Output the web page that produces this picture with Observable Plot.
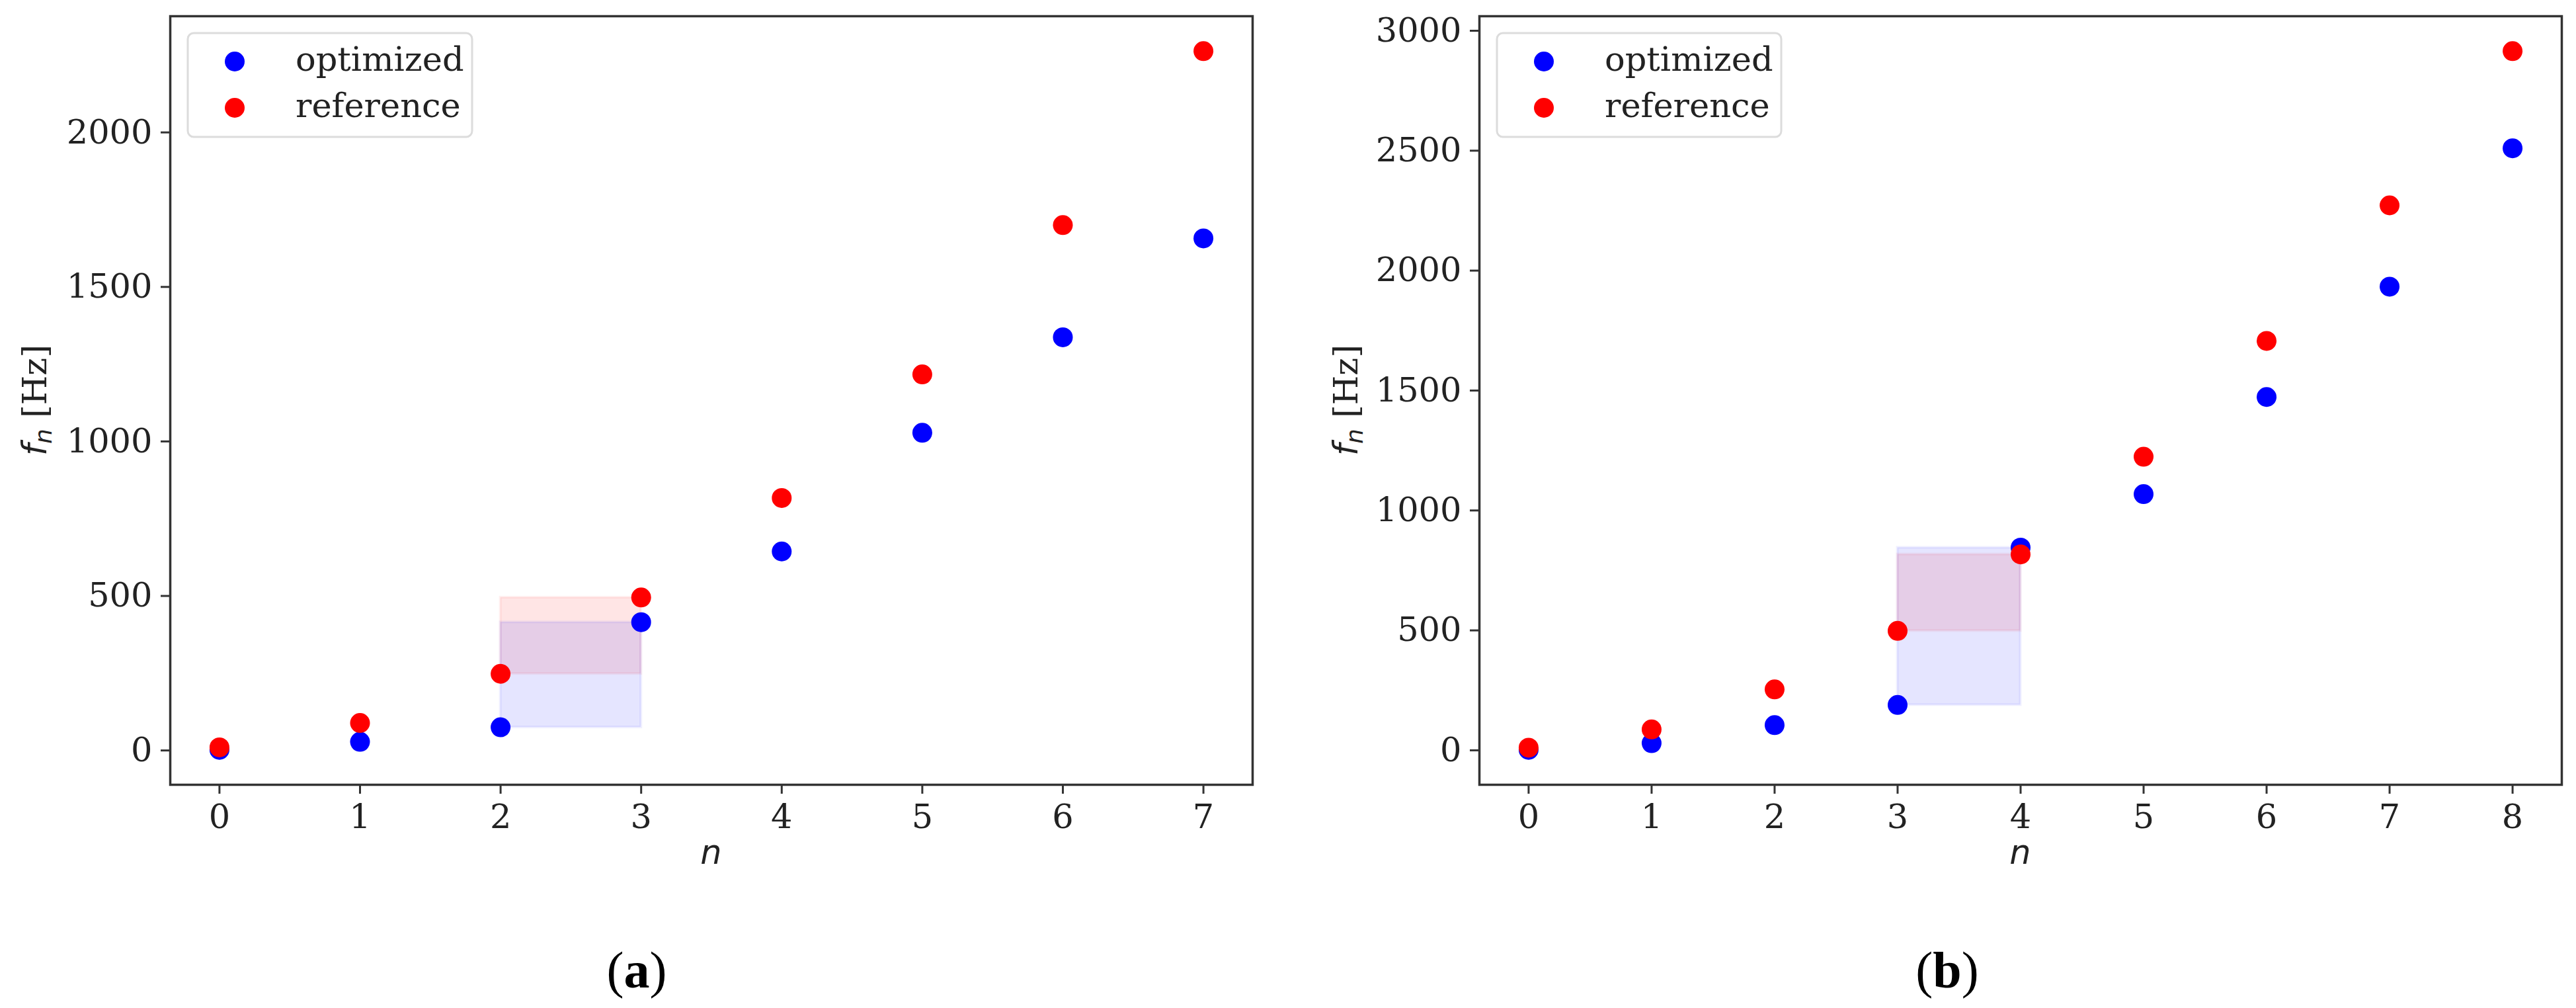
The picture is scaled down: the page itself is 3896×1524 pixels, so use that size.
<!DOCTYPE html>
<html><head><meta charset="utf-8">
<script src="https://cdn.jsdelivr.net/npm/d3@7"></script>
<script src="https://cdn.jsdelivr.net/npm/@observablehq/plot@0.6"></script>
<style>
body{margin:0;background:#fff;}
#fig{position:relative;width:3896px;height:1524px;background:#fff;overflow:hidden}
.panel{position:absolute;top:0}
.cap{position:absolute;font-family:"Liberation Serif",serif;font-size:78px;color:#000;transform:translateX(-50%);white-space:nowrap;line-height:1}
</style></head><body><div id="fig"></div>
<script>
// Panel (a)
const nA = [0, 1, 2, 3, 4, 5, 6, 7];
const optimizedA = [2, 28, 75, 415, 644, 1028, 1337, 1657];
const referenceA = [10, 89, 248, 495, 817, 1217, 1700, 2263];
const bandA = [2, 3];           // shaded interval between these n
const yTicksA = [0, 500, 1000, 1500, 2000];

// Panel (b)
const nB = [0, 1, 2, 3, 4, 5, 6, 7, 8];
const optimizedB = [2, 30, 105, 189, 845, 1068, 1473, 1933, 2510];
const referenceB = [11, 87, 254, 498, 817, 1224, 1707, 2272, 2915];
const bandB = [3, 4];
const yTicksB = [0, 500, 1000, 1500, 2000, 2500, 3000];

const seriesNames = ["optimized", "reference"];
const seriesColors = ["blue", "red"];
const captions = ["a", "b"];

function panel({n, opt, ref, band, yTicks, width, marginLeft, marginRight, ylabelX}) {
  const H = 1330, mt = 24, mb = 144;
  const [ymin, ymax] = d3.extent(opt.concat(ref));
  const py = (ymax - ymin) * 0.05;
  const [xmin, xmax] = d3.extent(n);
  const px = (xmax - xmin) * 0.05;
  const optData = n.map((k, i) => ({n: k, f: opt[i]}));
  const refData = n.map((k, i) => ({n: k, f: ref[i]}));
  const bandOf = (arr) => [{x1: n[band[0]], x2: n[band[1]], y1: arr[band[0]], y2: arr[band[1]]}];
  const plot = Plot.plot({
    width, height: H, marginLeft, marginRight, marginTop: mt, marginBottom: mb,
    style: {fontFamily: "DejaVu Serif", fontSize: "51px", color: "#222", background: "#fff", overflow: "visible"},
    x: {domain: [xmin - px, xmax + px]},
    y: {domain: [ymin - py, ymax + py]},
    marks: [
      Plot.rect(bandOf(ref), {x1: "x1", x2: "x2", y1: "y1", y2: "y2", fill: seriesColors[1], fillOpacity: 0.1, stroke: seriesColors[1], strokeOpacity: 0.06, strokeWidth: 4}),
      Plot.rect(bandOf(opt), {x1: "x1", x2: "x2", y1: "y1", y2: "y2", fill: seriesColors[0], fillOpacity: 0.1, stroke: seriesColors[0], strokeOpacity: 0.06, strokeWidth: 4}),
      Plot.dot(optData, {x: "n", y: "f", r: 15, fill: seriesColors[0]}),
      Plot.dot(refData, {x: "n", y: "f", r: 15, fill: seriesColors[1]}),
      Plot.axisX({ticks: n, tickSize: 14, tickPadding: 15, tickFormat: d => String(d), label: null, stroke: "#333", strokeWidth: 3, fontSize: 51}),
      Plot.axisY({ticks: yTicks, tickSize: 14, tickPadding: 13, tickFormat: d => String(d), label: null, stroke: "#333", strokeWidth: 3, fontSize: 51}),
      Plot.frame({stroke: "#333", strokeWidth: 3.5})
    ]
  });
  const svg = d3.select(plot);
  // legend
  const lg = svg.append("g").attr("transform", `translate(${marginLeft + 27},50)`);
  lg.append("rect").attr("width", 430).attr("height", 157).attr("rx", 9)
    .attr("fill", "#fff").attr("fill-opacity", 0.8).attr("stroke", "#dcdcdc").attr("stroke-width", 3);
  seriesNames.forEach((s, i) => {
    lg.append("circle").attr("cx", 71).attr("cy", 43 + i * 70).attr("r", 15).attr("fill", seriesColors[i]);
    lg.append("text").attr("x", 163).attr("y", 57 + i * 70).attr("font-family", "DejaVu Serif")
      .attr("text-anchor", "start").attr("font-size", 51).attr("fill", "#222").text(s);
  });
  // y label
  const yl = svg.append("text").attr("transform", `translate(${ylabelX},${(mt + H - mb) / 2}) rotate(-90)`)
    .attr("text-anchor", "middle").attr("font-size", 51).attr("fill", "#222");
  yl.append("tspan").attr("font-family", "DejaVu Sans").attr("font-style", "italic").text("f");
  yl.append("tspan").attr("font-family", "DejaVu Sans").attr("font-style", "italic").attr("font-size", 36).attr("dy", 8).text("n");
  yl.append("tspan").attr("font-family", "DejaVu Serif").attr("dy", -8).text("\u00a0[Hz]");
  // x label
  svg.append("text").attr("x", (marginLeft + width - marginRight) / 2).attr("y", 1306)
    .attr("text-anchor", "middle").attr("font-family", "DejaVu Sans").attr("font-style", "italic")
    .attr("font-size", 51).attr("fill", "#222").text("n");
  return plot;
}

const fig = document.getElementById("fig");
const pA = panel({n: nA, opt: optimizedA, ref: referenceA, band: bandA, yTicks: yTicksA, width: 1948, marginLeft: 257, marginRight: 54, ylabelX: 70});
pA.classList.add("panel"); pA.style.left = "0px"; fig.appendChild(pA);
const pB = panel({n: nB, opt: optimizedB, ref: referenceB, band: bandB, yTicks: yTicksB, width: 1948, marginLeft: 289, marginRight: 22, ylabelX: 105});
pB.classList.add("panel"); pB.style.left = "1948px"; fig.appendChild(pB);

[963, 2945].forEach((cx, i) => {
  const d = document.createElement("div");
  d.className = "cap";
  d.style.left = cx + "px";
  d.style.top = "1428px";
  d.innerHTML = "(<b>" + captions[i] + "</b>)";
  fig.appendChild(d);
});
</script></body></html>
